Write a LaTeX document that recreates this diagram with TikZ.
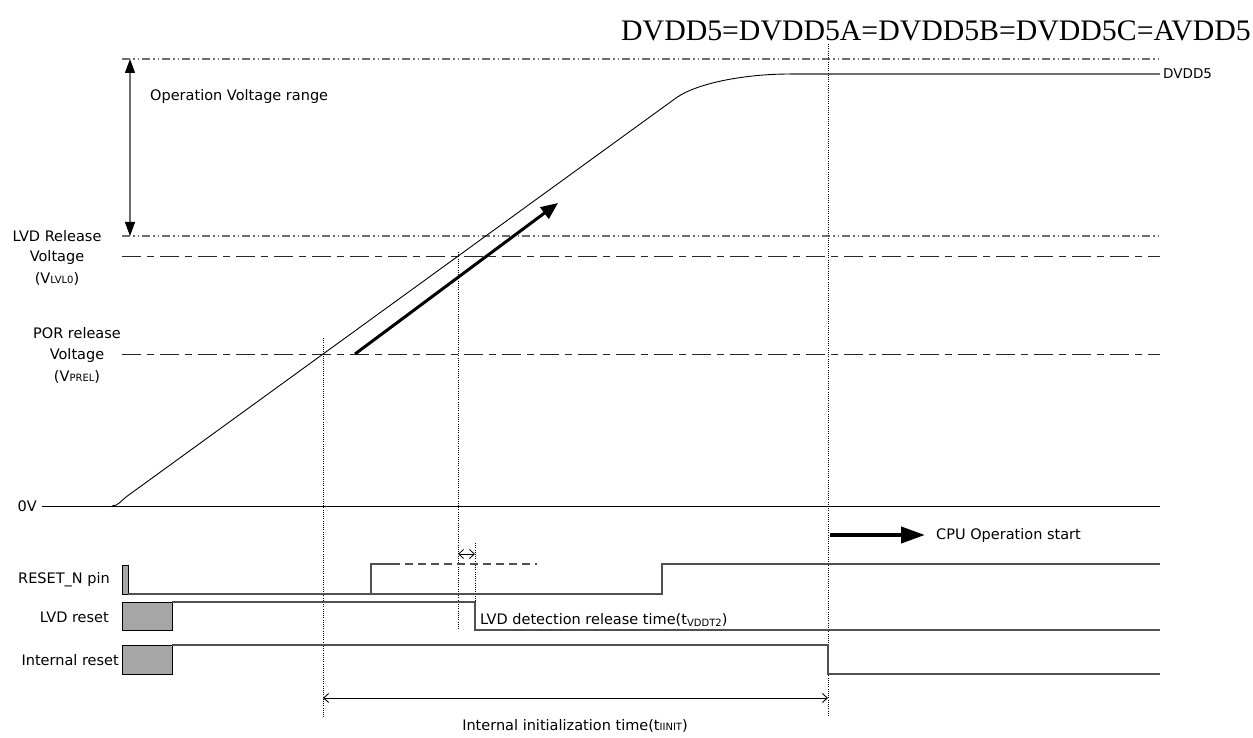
\documentclass[tikz,border=0pt]{standalone}
\usepackage{fontspec}
\setmainfont{DejaVu Sans}
\newfontfamily\titlefont{Liberation Serif}
\usetikzlibrary{arrows.meta}
\definecolor{dgray}{RGB}{110,110,110}
\definecolor{sgray}{RGB}{80,80,80}
\definecolor{boxgray}{RGB}{166,166,166}
\newcommand{\smallsub}[1]{{\fontsize{10}{10}\selectfont #1}}
\begin{document}
\begin{tikzpicture}[x=1pt,y=-1pt,
  lbl/.style={font=\fontsize{14.5}{17}\selectfont, inner sep=0pt},
  ddot/.style={draw=dgray, line width=1.3pt, dash pattern=on 8pt off 3pt on 1.5pt off 3pt on 1.5pt off 3pt},
  ldash/.style={draw=black!85, line width=0.9pt, dash pattern=on 19pt off 6pt on 7pt off 6pt},
  vdot/.style={draw=black, line width=0.8pt, dash pattern=on 1pt off 1.2pt},
  sig/.style={draw=sgray, line width=1.1pt},
  rbox/.style={draw=black, fill=boxgray, line width=0.8pt},
  thickarrow/.style={draw=black, line width=3pt, -{Triangle[length=17pt,width=14pt]}},
  barbs/.style={draw=black, line width=0.9pt, {Straight Barb[length=5pt,width=9pt]}-{Straight Barb[length=5pt,width=9pt]}}
]
\useasboundingbox (0,0) rectangle (1253,738);

% title
\node[font=\titlefont\fontsize{29.8}{32}\selectfont, inner sep=0pt, anchor=base] (title) at (936,41) {DVDD5=DVDD5A=DVDD5B=DVDD5C=AVDD5};

% reference levels
\coordinate (topL) at (122,59);   \coordinate (topR) at (1160,59);
\coordinate (lvdL) at (122,236);  \coordinate (lvdR) at (1160,236);
\coordinate (lvlL) at (122,256);  \coordinate (lvlR) at (1160,256);
\coordinate (porL) at (122,354);  \coordinate (porR) at (1160,354);
\coordinate (zeroL) at (42,506);  \coordinate (zeroR) at (1160,506);
\draw[ddot] (topL) -- (topR);
\draw[ddot] (lvdL) -- (lvdR);
\draw[ldash] (lvlL) -- (lvlR);
\draw[ldash] (porL) -- (porR);
\draw[black, line width=1pt] (zeroL) -- (zeroR);

% operation voltage range arrow
\coordinate (ovT) at (130,59); \coordinate (ovB) at (130,236);
\draw[dgray, line width=1.2pt, {Triangle[length=14pt,width=10pt,fill=black,color=black]}-{Triangle[length=14pt,width=10pt,fill=black,color=black]}] (ovT) -- (ovB);
\node[lbl, anchor=west] (ovr) at (150,97) {Operation Voltage range};

% left labels
\node[lbl] (lvdr1) at (57,236) {LVD Release};
\node[lbl] (lvdr2) at (57,257) {Voltage};
\node[lbl] (lvdr3) at (57,279) {(V\smallsub{LVL0})};
\node[lbl] (por1) at (77,333) {POR release};
\node[lbl] (por2) at (77,355) {Voltage};
\node[lbl] (por3) at (77,377) {(V\smallsub{PREL})};
\node[lbl, anchor=east] (zv) at (37,506) {0V};
\node[lbl, anchor=east] (rstn) at (110,580) {RESET\_N pin};
\node[lbl, anchor=east] (lvdrst) at (109,617) {LVD reset};
\node[lbl, anchor=east] (intrst) at (119,660) {Internal reset};

% DVDD5 ramp
\coordinate (r0) at (112,506);
\coordinate (r1) at (126,497);
\coordinate (r2) at (676,98);
\coordinate (r3) at (790,74);
\coordinate (r4) at (1160,74);
\draw[black, line width=0.9pt] (r0) .. controls (118,506) and (122,500) .. (r1) -- (r2) .. controls (697,83) and (745,74) .. (r3);
\draw[dgray, line width=1.2pt] (r3) -- (r4);
\node[lbl, anchor=west, font=\fontsize{13.5}{15}\selectfont] (dvdd5) at (1163,74) {DVDD5};

% thick rising arrow
\coordinate (ta0) at (355,354); \coordinate (ta1) at (558,203);
\draw[thickarrow] (ta0) -- (ta1);

% dotted verticals
\coordinate (v1t) at (323,338); \coordinate (v1b) at (323,717);
\coordinate (v2t) at (458,252); \coordinate (v2b) at (458,629);
\coordinate (v3t) at (475,543); \coordinate (v3b) at (475,601);
\coordinate (v4t) at (828,44);  \coordinate (v4b) at (828,717);
\draw[vdot] (v1t) -- (v1b);
\draw[vdot] (v2t) -- (v2b);
\draw[vdot] (v3t) -- (v3b);
\draw[vdot] (v4t) -- (v4b);

% small tVDDT2 arrow
\coordinate (sa0) at (458,554); \coordinate (sa1) at (475,554);
\draw[barbs, line width=0.8pt] (sa0) -- (sa1);

% CPU operation start
\coordinate (cpu0) at (830,535); \coordinate (cpu1) at (925,535);
\draw[black, line width=4pt, -{Triangle[length=24pt,width=16pt]}] (cpu0) -- (cpu1);
\node[lbl, anchor=west] (cpu) at (936,535) {CPU Operation start};

% RESET_N pin
\draw[rbox, line width=0.7pt] (122,565) rectangle (128,594);
\coordinate (rn0) at (128,594); \coordinate (rn1) at (371,594);
\coordinate (rn2) at (371,564); \coordinate (rn3) at (392,564);
\coordinate (rn4) at (537,564);
\coordinate (rn5) at (662,594); \coordinate (rn6) at (662,564);
\coordinate (rn7) at (1160,564);
\draw[sig] (rn0) -- (rn5) -- (rn6) -- (rn7);
\draw[sig] (rn1) -- (rn2) -- (rn3);
\draw[sig, dash pattern=on 8pt off 5pt] (rn3) -- (rn4);

% LVD reset
\draw[rbox] (122,602) rectangle (172,630);
\coordinate (lv0) at (172,602); \coordinate (lv1) at (475,602);
\coordinate (lv2) at (475,630); \coordinate (lv3) at (1160,630);
\draw[sig] (lv0) -- (lv1) -- (lv2) -- (lv3);
\node[lbl, anchor=base west] (lvdt) at (480,624) {LVD detection release time(t\raisebox{-2.5pt}{\smallsub{VDDT2}})};

% Internal reset
\draw[rbox] (122,645) rectangle (172,674);
\coordinate (ir0) at (172,645); \coordinate (ir1) at (828,645);
\coordinate (ir2) at (828,674); \coordinate (ir3) at (1160,674);
\draw[sig] (ir0) -- (ir1) -- (ir2) -- (ir3);

% internal initialization time
\coordinate (ii0) at (323,698); \coordinate (ii1) at (828,698);
\draw[barbs] (ii0) -- (ii1);
\node[lbl] (iit) at (575,726) {Internal initialization time(t\smallsub{IINIT})};
\end{tikzpicture}
\end{document}
